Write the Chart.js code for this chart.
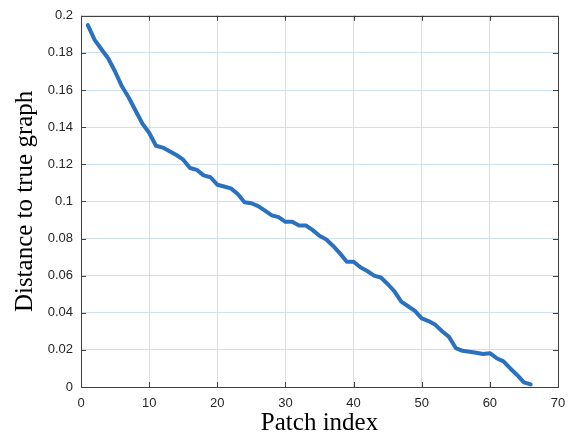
<!DOCTYPE html>
<html>
<head>
<meta charset="utf-8">
<script src="https://cdn.jsdelivr.net/npm/chart.js@4/dist/chart.umd.min.js"></script>
<style>
  body { margin: 0; background: #fff; }
  #c { display: block; }
</style>
</head>
<body>
<canvas id="c" width="587" height="441"></canvas>
<script>
// patch index 1..66 and the distance
const patchIndex = [];
for (let i = 1; i <= 66; i++) patchIndex.push(i);

const distance = [
  0.195, 0.187, 0.182, 0.177, 0.170, 0.162, 0.156, 0.149, 0.142, 0.137,
  0.130, 0.129, 0.127, 0.125, 0.1225, 0.118, 0.117, 0.114, 0.113, 0.109,
  0.108, 0.107, 0.104, 0.0995, 0.099, 0.0975, 0.095, 0.0925, 0.0915, 0.089,
  0.089, 0.087, 0.087, 0.0845, 0.0815, 0.0795, 0.076, 0.072, 0.0675, 0.0675,
  0.0645, 0.0625, 0.060, 0.059, 0.0555, 0.0515, 0.046, 0.0435, 0.041, 0.037,
  0.0355, 0.0335, 0.030, 0.027, 0.021, 0.0195, 0.019, 0.0185, 0.0178, 0.0182,
  0.0155, 0.0138, 0.010, 0.0065, 0.0025, 0.0014
];

const xTicks = [0, 10, 20, 30, 40, 50, 60, 70];
const yTicks = [0, 0.02, 0.04, 0.06, 0.08, 0.1, 0.12, 0.14, 0.16, 0.18, 0.2];

const AXIS = "#404040";

// box around the plot + matlab style inward ticks
const boxTicks = {
  id: "boxTicks",
  afterDraw(chart) {
    const { ctx, chartArea: a, scales } = chart;
    ctx.save();
    ctx.strokeStyle = AXIS;
    ctx.lineWidth = 1;
    ctx.beginPath();
    xTicks.forEach(v => {
      const x = Math.round(scales.x.getPixelForValue(v)) + 0.5;
      ctx.moveTo(x, a.bottom); ctx.lineTo(x, a.bottom - 5);
      ctx.moveTo(x, a.top); ctx.lineTo(x, a.top + 5);
    });
    yTicks.forEach(v => {
      const y = Math.round(scales.y.getPixelForValue(v)) + 0.5;
      ctx.moveTo(a.left, y); ctx.lineTo(a.left + 5, y);
      ctx.moveTo(a.right, y); ctx.lineTo(a.right - 5, y);
    });
    ctx.stroke();
    ctx.strokeRect(Math.round(a.left) + 0.5, Math.round(a.top) + 0.5,
      Math.round(a.right - a.left), Math.round(a.bottom - a.top));
    ctx.restore();
  }
};

new Chart(document.getElementById("c"), {
  type: "line",
  data: {
    datasets: [{
      data: patchIndex.map((x, i) => ({ x: x, y: distance[i] })),
      borderColor: "#2a71bf",
      borderWidth: 4,
      pointRadius: 0,
      tension: 0,
      borderJoinStyle: "round",
      borderCapStyle: "round",
      fill: false
    }]
  },
  options: {
    responsive: false,
    animation: false,
    layout: { padding: { left: 0, right: 29, top: 9, bottom: 0 } },
    plugins: { legend: { display: false }, tooltip: { enabled: false } },
    scales: {
      x: {
        type: "linear",
        min: 0, max: 70,
        afterBuildTicks: s => { s.ticks = xTicks.map(v => ({ value: v })); },
        afterFit: s => { s.height = 54; },
        grid: { color: "#cfe0f3", drawTicks: false },
        border: { display: false },
        ticks: {
          padding: 9,
          color: "#262626",
          font: { family: "Liberation Sans, Arial", size: 13 },
          callback: v => String(v)
        },
        title: {
          display: true,
          text: "Patch index",
          color: "#000",
          font: { family: "Liberation Serif, Times New Roman", size: 25 },
          padding: { top: 3, bottom: 3 }
        }
      },
      y: {
        min: 0, max: 0.2,
        afterBuildTicks: s => { s.ticks = yTicks.map(v => ({ value: v })); },
        afterFit: s => { s.width = 81; },
        grid: { color: "#cfe0f3", drawTicks: false },
        border: { display: false },
        ticks: {
          padding: 8,
          color: "#262626",
          font: { family: "Liberation Sans, Arial", size: 13 },
          callback: v => String(+v.toFixed(2))
        },
        title: {
          display: true,
          text: "Distance to true graph",
          color: "#000",
          font: { family: "Liberation Serif, Times New Roman", size: 25 },
          padding: { top: 10, bottom: 10 }
        }
      }
    }
  },
  plugins: [boxTicks]
});
</script>
</body>
</html>
